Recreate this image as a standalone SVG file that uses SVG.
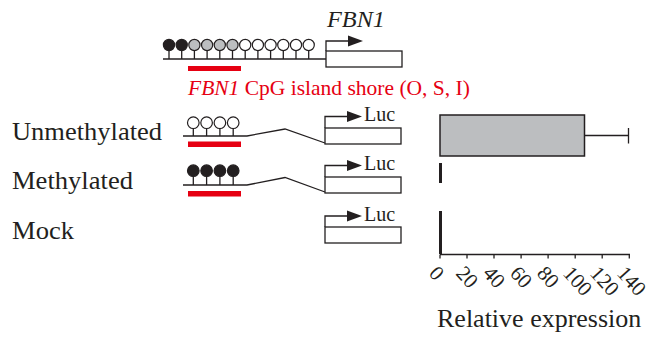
<svg xmlns="http://www.w3.org/2000/svg" width="651" height="337" viewBox="0 0 651 337">
<style>
text{font-family:"Liberation Serif","Times New Roman",serif;fill:#231f20}
.lab{font-size:25.5px}
.luc{font-size:20px}
.tick{font-size:21px}
.ln{stroke:#231f20;stroke-width:1.3;fill:none}
.box{stroke:#231f20;stroke-width:1.3;fill:#fff}
.cw{fill:#fff;stroke:#231f20;stroke-width:1.2}
.cg{fill:#bcbec0;stroke:#231f20;stroke-width:1.2}
.cb{fill:#231f20;stroke:#231f20;stroke-width:1.2}
.red{fill:#e60012}
.ah{fill:#231f20}
</style>
<defs>
<g id="ahd"><polygon class="ah" points="0,-5.5 15,0 0,5.5"/></g>
</defs>

<g id="top-construct">
<text x="327" y="27" font-size="24" font-style="italic" textLength="58" lengthAdjust="spacingAndGlyphs">FBN1</text>
<line class="ln" x1="163" y1="59" x2="326" y2="59"/>
<g class="ln">
<line x1="169" y1="50" x2="169" y2="59"/><line x1="181.7" y1="50" x2="181.7" y2="59"/>
<line x1="194.4" y1="50" x2="194.4" y2="59"/><line x1="207.1" y1="50" x2="207.1" y2="59"/>
<line x1="219.8" y1="50" x2="219.8" y2="59"/><line x1="232.5" y1="50" x2="232.5" y2="59"/>
<line x1="245.2" y1="50" x2="245.2" y2="59"/><line x1="257.9" y1="50" x2="257.9" y2="59"/>
<line x1="270.6" y1="50" x2="270.6" y2="59"/><line x1="283.3" y1="50" x2="283.3" y2="59"/>
<line x1="296" y1="50" x2="296" y2="59"/><line x1="308.7" y1="50" x2="308.7" y2="59"/>
</g>
<circle class="cb" cx="169" cy="45" r="5.6"/><circle class="cb" cx="181.7" cy="45" r="5.6"/>
<circle class="cg" cx="194.4" cy="45" r="5.6"/><circle class="cg" cx="207.1" cy="45" r="5.6"/>
<circle class="cg" cx="219.8" cy="45" r="5.6"/><circle class="cg" cx="232.5" cy="45" r="5.6"/>
<circle class="cw" cx="245.2" cy="45" r="5.6"/><circle class="cw" cx="257.9" cy="45" r="5.6"/>
<circle class="cw" cx="270.6" cy="45" r="5.6"/><circle class="cw" cx="283.3" cy="45" r="5.6"/>
<circle class="cw" cx="296" cy="45" r="5.6"/><circle class="cw" cx="308.7" cy="45" r="5.6"/>
<rect class="box" x="326" y="51" width="76" height="16"/>
<polyline class="ln" points="326,51 326,41 349,41"/>
<use href="#ahd" x="348" y="41"/>
<rect class="red" x="188" y="66" width="53" height="5"/>
<text x="188" y="95" font-size="21.5" style="fill:#e60012"><tspan font-style="italic">FBN1</tspan> CpG island shore (O, S, I)</text>
</g>

<g id="unmethylated">
<text class="lab" x="12" y="140" textLength="150" lengthAdjust="spacingAndGlyphs">Unmethylated</text>
<polyline class="ln" points="183,136 247,136 285,129 325,143"/>
<g class="ln">
<line x1="193.3" y1="128" x2="193.3" y2="136"/><line x1="206.6" y1="128" x2="206.6" y2="136"/>
<line x1="219.9" y1="128" x2="219.9" y2="136"/><line x1="233.2" y1="128" x2="233.2" y2="136"/>
</g>
<circle class="cw" cx="193.3" cy="122.7" r="5.8"/><circle class="cw" cx="206.6" cy="122.7" r="5.8"/>
<circle class="cw" cx="219.9" cy="122.7" r="5.8"/><circle class="cw" cx="233.2" cy="122.7" r="5.8"/>
<rect class="red" x="188" y="141.5" width="53" height="5.5"/>
<rect class="box" x="325" y="128" width="76" height="16"/>
<polyline class="ln" points="325,128 325,116.5 348,116.5"/>
<use href="#ahd" x="347" y="116.5"/>
<text class="luc" x="364" y="121">Luc</text>
</g>

<g id="methylated">
<text class="lab" x="12" y="189" textLength="121" lengthAdjust="spacingAndGlyphs">Methylated</text>
<polyline class="ln" points="183,185 247,185 285,177.5 325,192"/>
<g class="ln">
<line x1="193.3" y1="176" x2="193.3" y2="185"/><line x1="206.6" y1="176" x2="206.6" y2="185"/>
<line x1="219.9" y1="176" x2="219.9" y2="185"/><line x1="233.2" y1="176" x2="233.2" y2="185"/>
</g>
<circle class="cb" cx="193.3" cy="170.7" r="5.8"/><circle class="cb" cx="206.6" cy="170.7" r="5.8"/>
<circle class="cb" cx="219.9" cy="170.7" r="5.8"/><circle class="cb" cx="233.2" cy="170.7" r="5.8"/>
<rect class="red" x="188" y="191" width="53" height="5.5"/>
<rect class="box" x="325" y="177" width="76" height="16"/>
<polyline class="ln" points="325,177 325,165.5 348,165.5"/>
<use href="#ahd" x="347" y="165.5"/>
<text class="luc" x="364" y="170">Luc</text>
</g>

<g id="mock">
<text class="lab" x="12" y="239" textLength="62" lengthAdjust="spacingAndGlyphs">Mock</text>
<rect class="box" x="325" y="227" width="76" height="16"/>
<polyline class="ln" points="325,227 325,216 348,216"/>
<use href="#ahd" x="347" y="216"/>
<text class="luc" x="364" y="221">Luc</text>
</g>

<g id="chart">
<rect x="440" y="115" width="144.5" height="41" fill="#bcbec0" stroke="#231f20" stroke-width="1.5"/>
<line class="ln" x1="584.5" y1="135.5" x2="628.5" y2="135.5"/>
<line class="ln" x1="628.5" y1="128" x2="628.5" y2="143.5"/>
<line x1="440.5" y1="163" x2="440.5" y2="183" stroke="#231f20" stroke-width="3"/>
<line x1="440.5" y1="211" x2="440.5" y2="254" stroke="#231f20" stroke-width="3"/>
<line class="ln" x1="440" y1="254.5" x2="630" y2="254.5"/>
<g class="ln">
<line x1="440" y1="254.5" x2="440" y2="258.5"/><line x1="467" y1="254.5" x2="467" y2="258.5"/>
<line x1="494" y1="254.5" x2="494" y2="258.5"/><line x1="521.1" y1="254.5" x2="521.1" y2="258.5"/>
<line x1="548.1" y1="254.5" x2="548.1" y2="258.5"/><line x1="575.2" y1="254.5" x2="575.2" y2="258.5"/>
<line x1="602.2" y1="254.5" x2="602.2" y2="258.5"/><line x1="629.3" y1="254.5" x2="629.3" y2="258.5"/>
</g>
<text class="tick" transform="translate(428,274) rotate(48)">0</text>
<text class="tick" transform="translate(455,274) rotate(48)">20</text>
<text class="tick" transform="translate(482,274) rotate(48)">40</text>
<text class="tick" transform="translate(509,274) rotate(48)">60</text>
<text class="tick" transform="translate(536,274) rotate(48)">80</text>
<text class="tick" transform="translate(562,274) rotate(48)">100</text>
<text class="tick" transform="translate(589,274) rotate(48)">120</text>
<text class="tick" transform="translate(616,274) rotate(48)">140</text>
<text x="437" y="327" font-size="26">Relative expression</text>
</g>
</svg>
